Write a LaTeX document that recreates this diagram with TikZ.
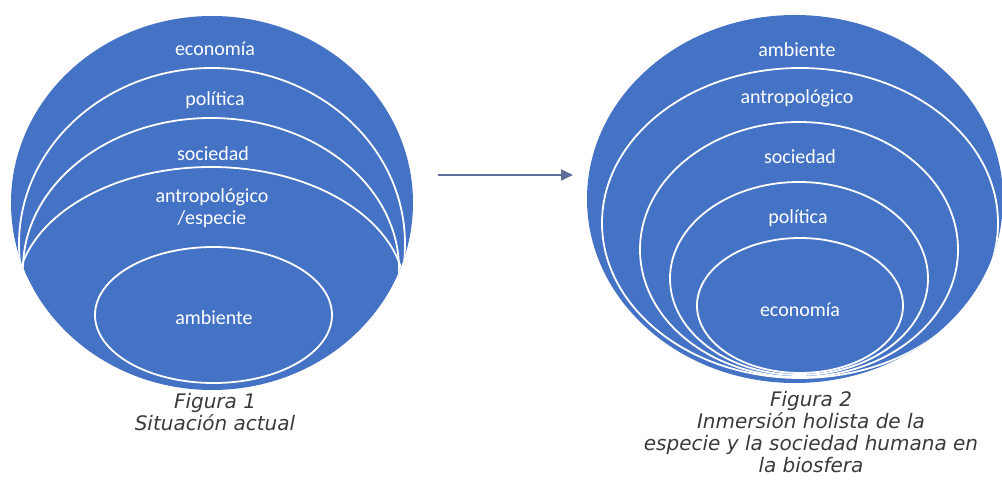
\documentclass[tikz,border=0pt]{standalone}
\usepackage{fontspec}
\setmainfont{Carlito}
\newfontfamily\capfont{DejaVu Sans}
\usepackage{xcolor}
\usetikzlibrary{positioning, arrows.meta, shapes.geometric}
\definecolor{officeblue}{HTML}{4472C4}
\definecolor{capgray}{HTML}{3A3A3A}
\definecolor{arrowgray}{HTML}{5E6F98}
\tikzset{
    sphere/.style={ellipse, fill=officeblue, inner sep=0pt},
    layer/.style={ellipse, draw=white, line width=1.8pt, inner sep=0pt},
    lbl/.style={text=white, font=\fontsize{20}{22}\selectfont, align=center, inner sep=0pt},
    figcap/.style={text=capgray, font=\capfont\itshape\fontsize{20}{22}\selectfont, align=center, inner sep=0pt, anchor=north},
    flow/.style={-{Triangle[length=12pt, width=11pt]}, line width=2pt, draw=arrowgray}
}

\begin{document}
\begin{tikzpicture}[x=1pt, y=-1pt]
\useasboundingbox (0,0) rectangle (1002,486);

% Figura 1
\node[sphere, minimum width=402pt, minimum height=374pt] (outA) at (212,203) {};
\begin{scope}
    \clip (212,203) ellipse [x radius=201pt, y radius=187pt];
    \node[layer, minimum width=386pt, minimum height=352pt] (polA) at (212,244) {};
    \node[layer, minimum width=376pt, minimum height=302pt] (socA) at (211,269) {};
    \node[layer, minimum width=388pt, minimum height=253pt] (antA) at (211,293.5) {};
\end{scope}
\node[layer, minimum width=237pt, minimum height=136pt] (ambA) at (213.5,315) {};

\node[lbl] (t1a) at (215,49) {economía};
\node[lbl] (t2a) at (215,100) {política};
\node[lbl] (t3a) at (213,154) {sociedad};
\node[lbl] (t4a) at (212,208) {antropológico\\/especie};
\node[lbl] (t5a) at (214,318) {ambiente};

\node[figcap] (capA) at (215,393) {Figura 1\\Situación actual};

% Figura 2
\node[sphere, minimum width=416pt, minimum height=368pt] (outB) at (795,199) {};
\begin{scope}
    \clip (795,199) ellipse [x radius=208pt, y radius=184pt];
    \node[layer, minimum width=396pt, minimum height=310pt] (antB) at (800,223) {};
    \node[layer, minimum width=318pt, minimum height=255pt] (socB) at (799,249.5) {};
    \node[layer, minimum width=258pt, minimum height=193pt] (polB) at (799,278.5) {};
    \node[layer, minimum width=206pt, minimum height=135pt] (ecoB) at (800,305.5) {};
\end{scope}

\node[lbl] (t1b) at (797,50) {ambiente};
\node[lbl] (t2b) at (797,98) {antropológico};
\node[lbl] (t3b) at (800,157) {sociedad};
\node[lbl] (t4b) at (798,218) {política};
\node[lbl] (t5b) at (800,310) {economía};

\node[figcap] (capB) at (811,391) {Figura 2\\Inmersión holista de la\\especie y la sociedad humana en\\la biosfera};

% Arrow
\coordinate (arrS) at (438,175);
\coordinate (arrE) at (573,175);
\draw[flow] (arrS) -- (arrE);

\end{tikzpicture}
\end{document}
